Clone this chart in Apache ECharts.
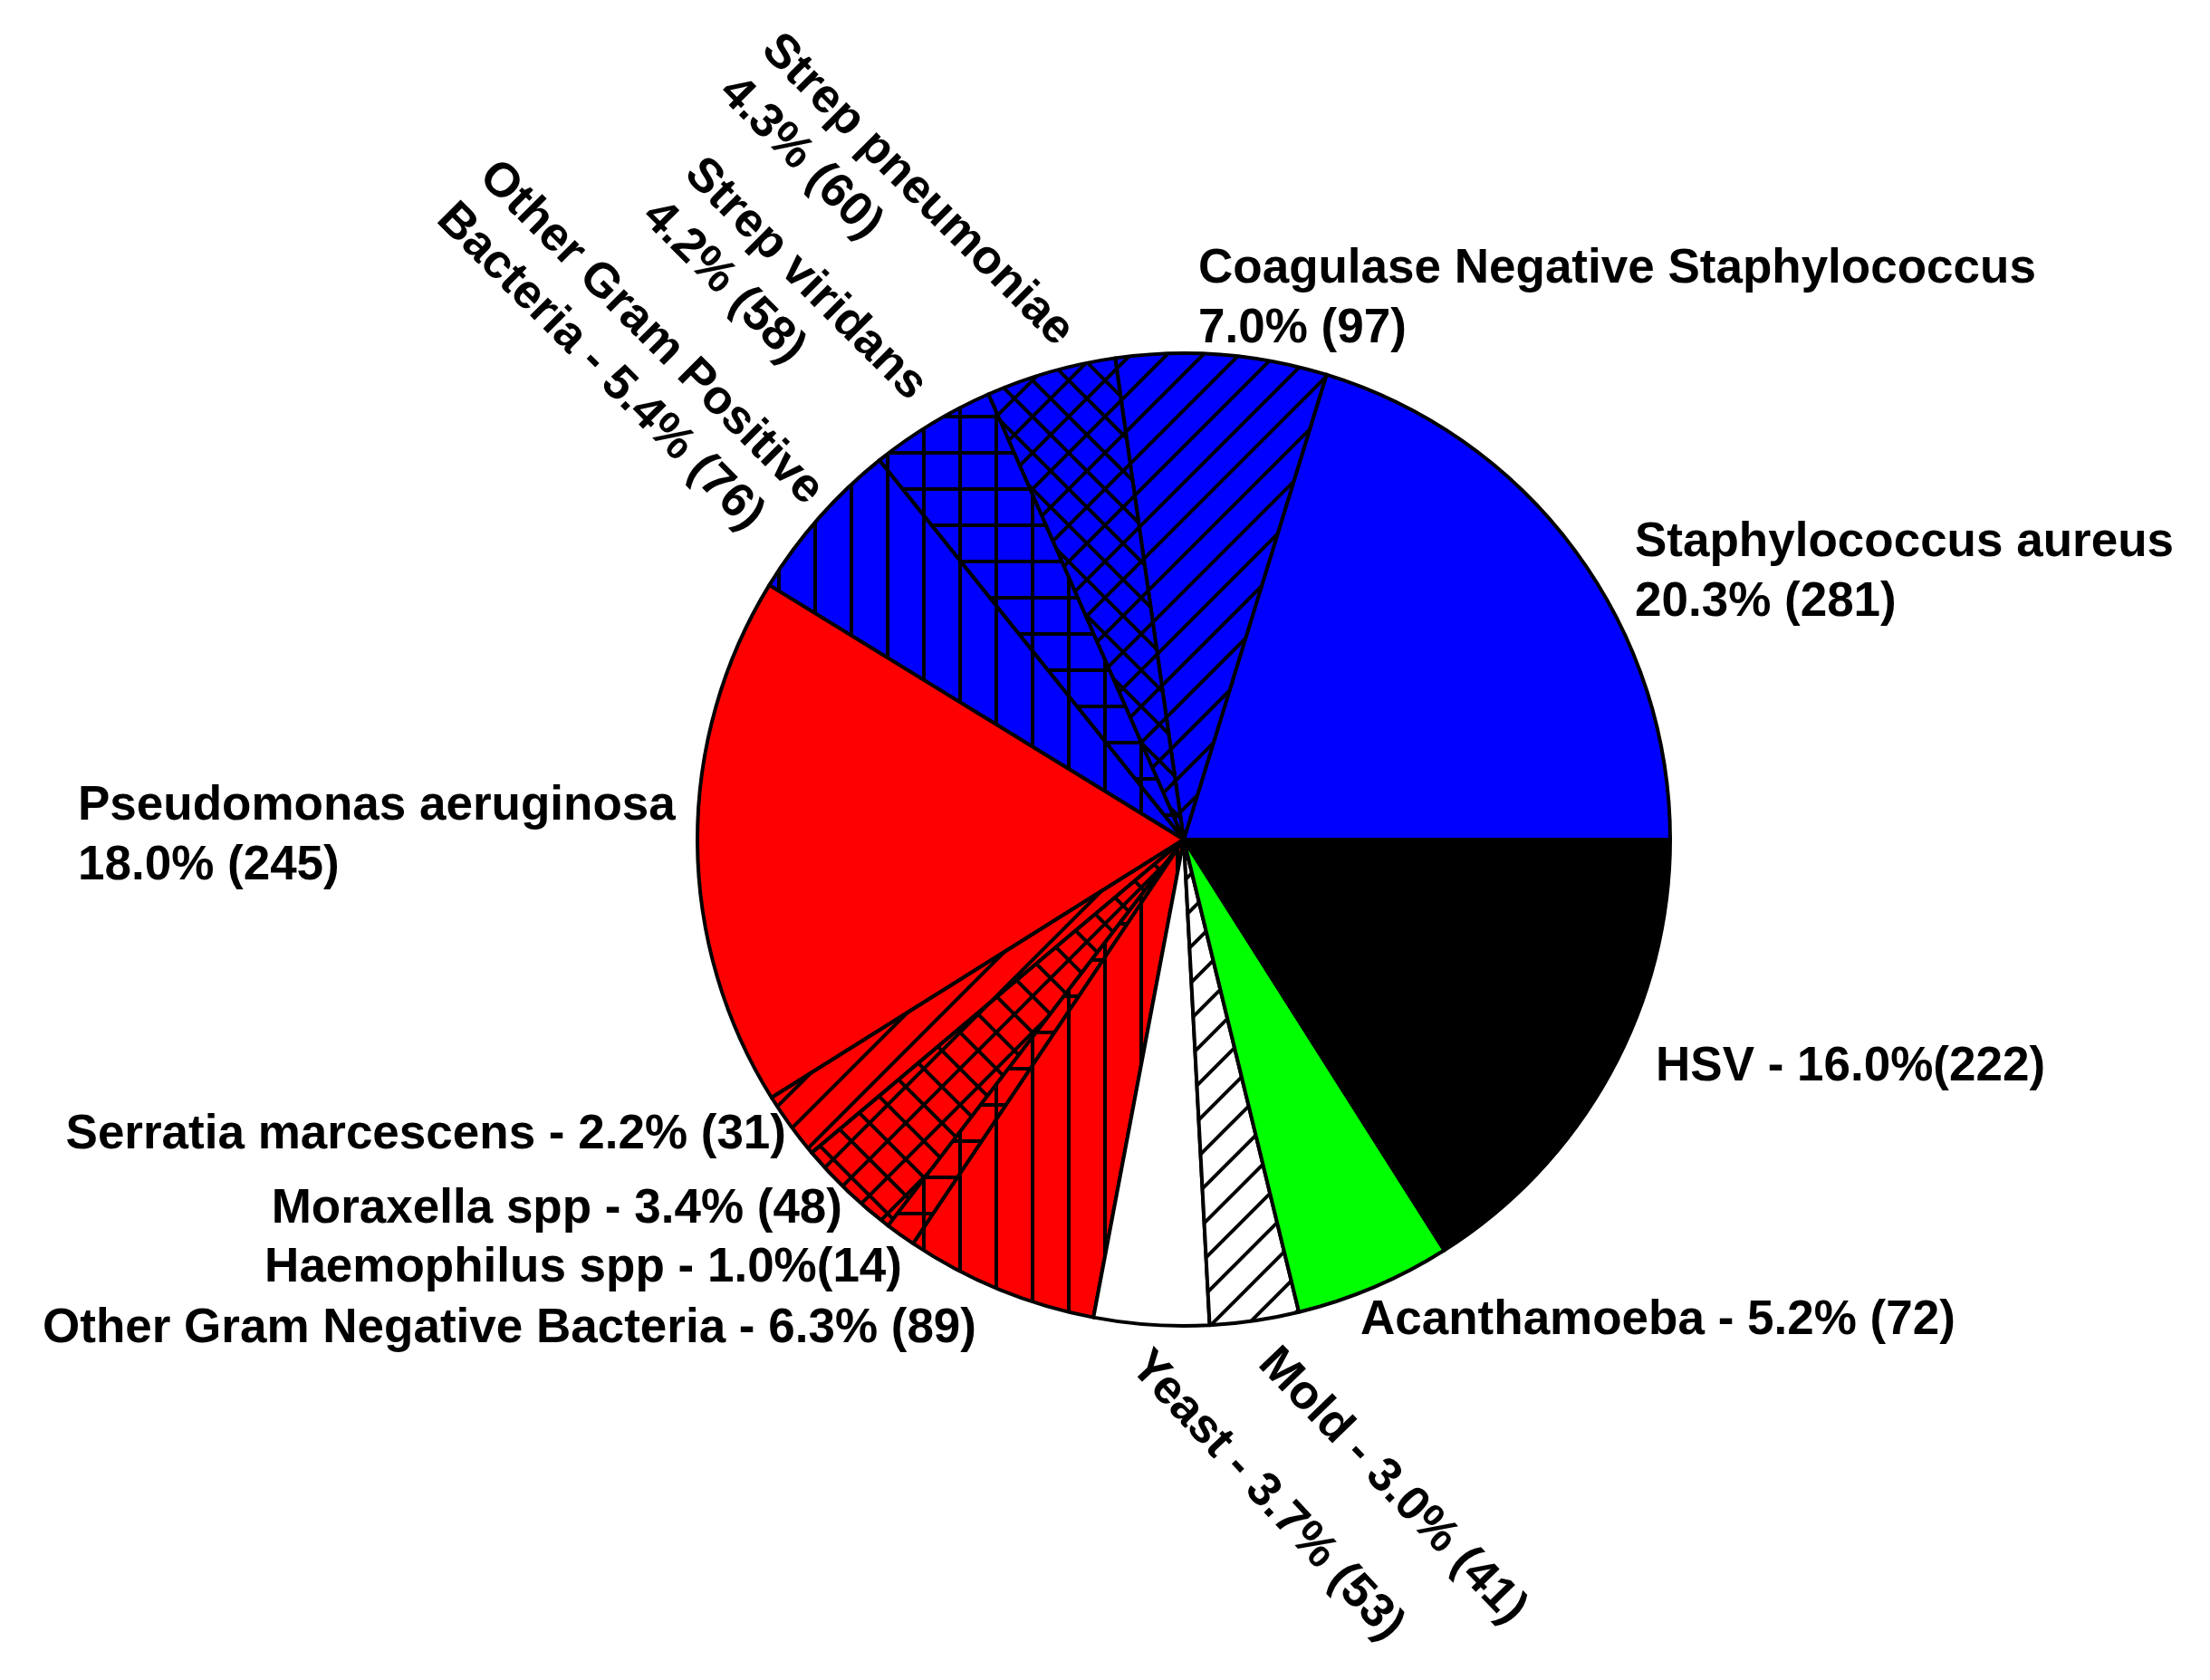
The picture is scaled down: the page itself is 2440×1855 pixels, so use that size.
<!DOCTYPE html>
<html>
<head>
<meta charset="utf-8">
<script src="https://cdn.jsdelivr.net/npm/echarts@6/dist/echarts.min.js"></script>
<style>
	html, body { margin: 0; padding: 0; background: #fff; }
	#main { width: 2440px; height: 1855px; }
</style>
</head>
<body>
<div id="main"></div>
<script>
	// slices, counter-clockwise from 3 o'clock
	var names = ['Staphylococcus aureus', 'Coagulase Negative Staphylococcus', 'Strep pneumoniae', 'Strep viridans',
		'Other Gram Positive Bacteria', 'Pseudomonas aeruginosa', 'Serratia marcescens', 'Moraxella spp',
		'Haemophilus spp', 'Other Gram Negative Bacteria', 'Yeast', 'Mold', 'Acanthamoeba', 'HSV'];
	var counts = [281, 97, 60, 58, 76, 245, 31, 48, 14, 89, 53, 41, 72, 222];
	var percents = ['20.3', '7.0', '4.3', '4.2', '5.4', '18.0', '2.2', '3.4', '1.0', '6.3', '3.7', '3.0', '5.2', '16.0'];
	var labelFormats = ['{n}\n{p}% ({c})', '{n}\n{p}% ({c})', '{n}\n{p}% ({c})', '{n}\n{p}% ({c})',
		'Other Gram Positive\nBacteria - {p}% ({c})', '{n}\n{p}% ({c})', '{n} - {p}% ({c})', '{n} - {p}% ({c})',
		'{n} - {p}%({c})', '{n} - {p}% ({c})', '{n} - {p}% ({c})', '{n} - {p}% ({c})', '{n} - {p}% ({c})', '{n} - {p}%({c})'];

	// fill: background colour + hatch kind
	var fills = [['#0000ff', ''], ['#0000ff', '/'], ['#0000ff', 'x'], ['#0000ff', '+'], ['#0000ff', '|'],
		['#ff0000', ''], ['#ff0000', '/'], ['#ff0000', 'x'], ['#ff0000', '+'], ['#ff0000', '|'],
		['#ffffff', ''], ['#ffffff', '/'], ['#00ff00', ''], ['#000000', '']];

	// label anchors: x, y, align, rotate
	var spots = [
		[1805, 632, 'left', 0],
		[1323, 330, 'left', 0],
		[826, 70, 'left', -45],
		[741, 207, 'left', -45],
		[514, 210, 'left', -45],
		[86, 923, 'left', 0],
		[868, 1253, 'right', 0],
		[930, 1335, 'right', 0],
		[996, 1400, 'right', 0],
		[1078, 1467, 'right', 0],
		[1257, 1500, 'left', -47],
		[1398, 1497, 'left', -46],
		[1502, 1458, 'left', 0],
		[1828, 1178, 'left', 0]
	];

	function hatch(bg, kind) {
		if (!kind) return bg;
		var s = 40;
		var c = document.createElement('canvas');
		c.width = s; c.height = s;
		var g = c.getContext('2d');
		g.fillStyle = bg;
		g.fillRect(0, 0, s, s);
		g.strokeStyle = '#000';
		g.lineWidth = 4;
		g.beginPath();
		if (kind == '/' || kind == 'x') {
			g.moveTo(0, s); g.lineTo(s, 0);
			g.moveTo(-s / 2, s / 2); g.lineTo(s / 2, -s / 2);
			g.moveTo(s / 2, s * 1.5); g.lineTo(s * 1.5, s / 2);
		}
		if (kind == 'x') {
			g.moveTo(0, 0); g.lineTo(s, s);
			g.moveTo(-s / 2, s / 2); g.lineTo(s / 2, s * 1.5);
			g.moveTo(s / 2, -s / 2); g.lineTo(s * 1.5, s / 2);
		}
		if (kind == '|' || kind == '+') {
			g.moveTo(s / 2, 0); g.lineTo(s / 2, s);
		}
		if (kind == '+') {
			g.moveTo(0, s / 2); g.lineTo(s, s / 2);
		}
		g.stroke();
		return { image: c, repeat: 'repeat' };
	}

	var data = names.map(function (n, i) {
		return {
			name: n,
			value: counts[i],
			itemStyle: { color: hatch(fills[i][0], fills[i][1]) }
		};
	});

	var chart = echarts.init(document.getElementById('main'));
	chart.setOption({
		animation: false,
		backgroundColor: '#fff',
		series: [{
			type: 'pie',
			center: [1307, 927],
			radius: 537,
			startAngle: 0,
			clockwise: false,
			avoidLabelOverlap: false,
			itemStyle: { borderColor: '#000', borderWidth: 4 },
			label: {
				show: true,
				position: 'outside',
				color: '#000',
				fontFamily: 'Liberation Sans, Arial, sans-serif',
				fontWeight: 'bold',
				fontSize: 53,
				lineHeight: 66,
				formatter: function (p) {
					var i = p.dataIndex;
					return labelFormats[i].replace('{n}', names[i]).replace('{p}', percents[i]).replace('{c}', counts[i]);
				}
			},
			labelLine: { show: false },
			labelLayout: function (p) {
				var s = spots[p.dataIndex];
				return { x: s[0], y: s[1], align: s[2], verticalAlign: 'middle', rotate: s[3] };
			},
			emphasis: { disabled: true },
			data: data
		}]
	});
</script>
</body>
</html>
